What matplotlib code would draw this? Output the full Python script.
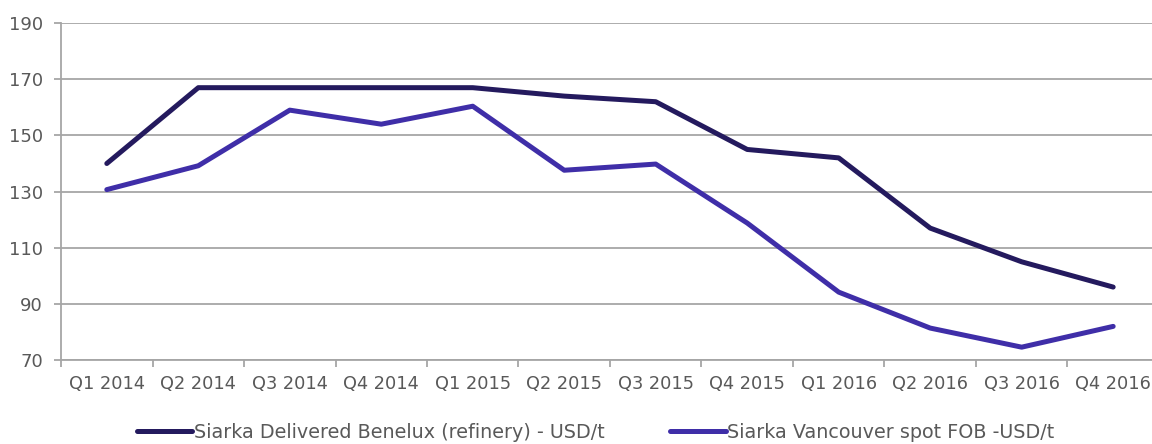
import matplotlib
matplotlib.use("Agg")
import matplotlib.pyplot as plt

quarters = ["Q1 2014", "Q2 2014", "Q3 2014", "Q4 2014",
            "Q1 2015", "Q2 2015", "Q3 2015", "Q4 2015",
            "Q1 2016", "Q2 2016", "Q3 2016", "Q4 2016"]
benelux = [140, 167, 167, 167, 167, 164, 162, 145, 142, 117, 105, 96]
vancouver = [130.7, 139.2, 159, 154, 160.4, 137.6, 139.8, 118.8, 94.2, 81.4, 74.6, 82]

label_benelux = "Siarka Delivered Benelux (refinery) - USD/t"
label_vancouver = "Siarka Vancouver spot FOB -USD/t"

text_color = "#595959"
grid_color = "#a6a6a6"

plt.rcParams["font.family"] = ["DejaVu Sans"]

fig = plt.figure(figsize=(11.52, 4.44), dpi=100)
ax = fig.add_axes([0.053, 0.189, 0.953, 0.759])

x = list(range(len(quarters)))
ax.plot(x, benelux, color="#241a5e", lw=3.6, solid_capstyle="round",
        solid_joinstyle="round", label=label_benelux, zorder=3)
ax.plot(x, vancouver, color="#3f2ea8", lw=3.6, solid_capstyle="round",
        solid_joinstyle="round", label=label_vancouver, zorder=3)

ax.set_xlim(-0.5, len(quarters) - 0.5)
ax.set_ylim(70, 190)
ax.set_yticks(range(70, 191, 20))
ax.yaxis.grid(True, color=grid_color, lw=1.3)
ax.set_axisbelow(True)

ax.set_xticks(x)
ax.set_xticklabels(quarters)
ax.set_xticks([i - 0.5 for i in range(len(quarters) + 1)], minor=True)
ax.tick_params(axis="x", which="major", length=0, pad=11, labelsize=12.8, labelcolor=text_color)
ax.tick_params(axis="x", which="minor", length=5, width=1.3, color=grid_color)
ax.tick_params(axis="y", length=5, width=1.3, color=grid_color, pad=8, labelsize=13, labelcolor=text_color)

for side in ["top", "right"]:
    ax.spines[side].set_visible(False)
for side in ["left", "bottom"]:
    ax.spines[side].set_color(grid_color)
    ax.spines[side].set_linewidth(1.3)

fig.legend(loc="center", bbox_to_anchor=(0.517, 0.027), ncol=2, frameon=False,
           handlelength=2.9, handletextpad=0.1, columnspacing=3.4,
           fontsize=13.8, labelcolor=text_color)

fig.savefig("out.png", dpi=100)
